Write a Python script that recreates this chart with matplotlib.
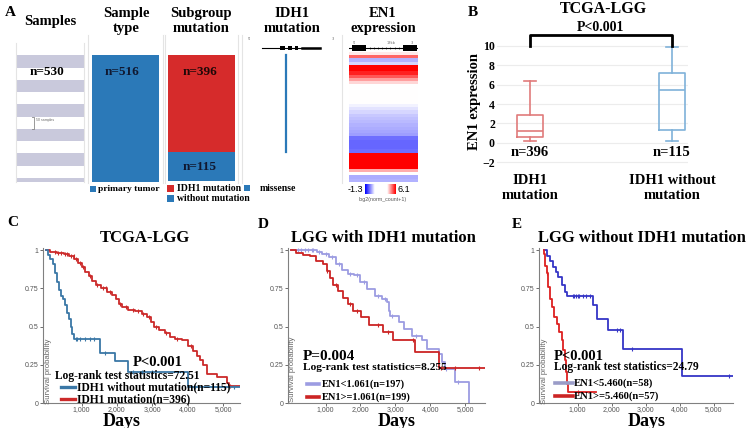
import numpy as np
import matplotlib
matplotlib.use('Agg')
import matplotlib.pyplot as plt
from matplotlib.lines import Line2D
from matplotlib.patches import Rectangle
from matplotlib.colors import LinearSegmentedColormap, TwoSlopeNorm

W, H = 749, 428
SERIF = 'Liberation Serif'
SANS = 'Liberation Sans'

# ---------------- data ----------------
# panel A
sample_total = 530
sample_stripes = [0, 1, 0, 1, 0, 1, 0, 1, 0, 1, 0, 1]
type_counts = [516]
subgroup_labels = ['IDH1 mutation', 'without mutation']
subgroup_counts = [396, 115]
missense_span = [0, 396]
idh1_exons = [(0.38, 0.43), (0.46, 0.50), (0.53, 0.56)]
en1_exons = [(0.04, 0.24), (0.78, 0.98)]
en1_range = [-1.3, 6.1]
en1_rows = [2.7, 4.6, 1.3, 1.8,
            6.1, 6.1, 5.6, 4.8, 3.8, 3.0,
            2.4, 2.4, 2.4, 2.4, 2.4, 2.4,
            2.2, 2.0, 1.8, 1.6, 1.5, 1.4, 1.3, 1.2, 1.1, 1.0,
            0.3, 0.2, 0.2, 0.2, 0.3,
            6.1, 6.1, 6.1, 6.1, 6.1,
            3.6, 2.4, 1.2, 1.3]

# panel B (box statistics)
box_groups = ['IDH1\nmutation', 'IDH1 without\nmutation']
box_n = ['n=396', 'n=115']
box_q1 = [0.62, 1.30]
box_med = [1.26, 5.48]
box_q3 = [2.91, 7.19]
box_lo = [0.17, 0.17]
box_hi = [6.33, 9.93]

# panel C
c_nomut_t = [0, 60, 120, 180, 240, 300, 360, 420, 480, 540, 600, 650, 700, 740, 780,
             1510, 1940, 2320, 4010, 5480]
c_nomut_s = [1.0, 0.97, 0.94, 0.91, 0.85, 0.79, 0.74, 0.70, 0.68, 0.64, 0.59, 0.55, 0.50,
             0.45, 0.42, 0.33, 0.275, 0.20, 0.105, 0.105]
c_nomut_cens = [830, 880, 960, 1100, 1250, 1350, 1650, 2450, 2700, 3000, 4200, 5300]
c_mut_t = [0, 100, 300, 500, 650, 800, 900, 1000, 1100, 1200, 1300, 1400, 1550, 1720,
           1850, 1960, 2050, 2150, 2300, 2500, 2700, 2850, 2950, 3050, 3200, 3350, 3500,
           3650, 3840, 4000, 4150, 4260, 4350, 4420, 4540, 4820, 5100, 5160, 5480]
c_mut_s = [1.0, 0.99, 0.98, 0.975, 0.96, 0.94, 0.92, 0.89, 0.86, 0.83, 0.80, 0.77, 0.75,
           0.73, 0.71, 0.68, 0.65, 0.63, 0.61, 0.60, 0.58, 0.56, 0.53, 0.50, 0.48, 0.46,
           0.43, 0.42, 0.41, 0.37, 0.34, 0.31, 0.28, 0.25, 0.19, 0.17, 0.13, 0.11, 0.11]
c_mut_cens = [250, 330, 420, 520, 600, 700, 780, 850, 950, 1050, 1250, 1450, 1600, 1680,
              1800, 2100, 2250, 2450, 2600, 2750, 2900, 3100, 3400, 3700, 4100, 5200]

# panel D
d_low_t = [0, 750, 900, 1100, 1300, 1480, 1630, 1820, 2000, 2200, 2430, 2620, 2760, 2810,
           2860, 3100, 3240, 3480, 3760, 3910, 4240, 4340, 4420, 4700, 5120]
d_low_s = [1.0, 0.99, 0.975, 0.955, 0.91, 0.87, 0.845, 0.835, 0.79, 0.745, 0.70, 0.68,
           0.66, 0.605, 0.57, 0.53, 0.485, 0.44, 0.41, 0.355, 0.32, 0.27, 0.22, 0.14, 0.0]
d_low_cens = [200, 300, 400, 500, 600, 650, 800, 1000, 1200, 1400, 1700, 1900, 2100, 2500,
              2700, 2900, 3600, 4450, 4800]
d_high_t = [0, 150, 350, 550, 740, 930, 1030, 1120, 1220, 1360, 1500, 1650, 1790, 2030,
            2260, 2650, 2930, 3550, 4250, 5570]
d_high_s = [1.0, 0.98, 0.97, 0.96, 0.93, 0.91, 0.865, 0.82, 0.77, 0.735, 0.69, 0.65, 0.605,
            0.56, 0.51, 0.465, 0.41, 0.335, 0.23, 0.23]
d_high_cens = [1050, 1300, 1700, 1900, 2500, 2800, 3500, 4300, 4700, 5400]

# panel E
e_low_t = [0, 100, 200, 290, 360, 430, 530, 630, 680, 1460, 1560, 1900, 2330, 4050, 5560]
e_low_s = [1.0, 0.96, 0.93, 0.89, 0.86, 0.825, 0.77, 0.727, 0.70, 0.64, 0.55, 0.476,
           0.356, 0.18, 0.18]
e_low_cens = [850, 900, 950, 1000, 1050, 1150, 1250, 1350, 2150, 2250, 2600, 5450]
e_high_t = [0, 20, 40, 90, 140, 190, 240, 320, 390, 465, 530, 580, 630, 660, 680, 710, 1550]
e_high_s = [1.0, 0.978, 0.90, 0.85, 0.76, 0.68, 0.63, 0.56, 0.52, 0.465, 0.41, 0.345,
            0.28, 0.20, 0.127, 0.072, 0.072]
e_high_cens = [100, 1000]

BLUE_A = '#2b79b8'
RED_A = '#d62b2b'


def box(x0, y0, x1, y1):
    return [x0 / W, 1 - y1 / H, (x1 - x0) / W, (y1 - y0) / H]


def ftext(x, y, s, **kw):
    kw.setdefault('va', 'center')
    return fig.text(x / W, 1 - y / H, s, **kw)


def fline(x0, x1, y, **kw):
    fig.add_artist(Line2D([x0 / W, x1 / W], [1 - y / H, 1 - y / H], **kw))


def fsquare(x0, y0, size, color):
    fig.add_artist(Rectangle((x0 / W, 1 - (y0 + size) / H), size / W, size / H,
                             transform=fig.transFigure, color=color, lw=0))


fig = plt.figure(figsize=(W / 100, H / 100), dpi=100)
bold = dict(family=SERIF, fontweight='bold')


def column_axes(rect):
    ax = fig.add_axes(rect)
    ax.set_xticks([]); ax.set_yticks([])
    for k in ['top', 'bottom']:
        ax.spines[k].set_visible(False)
    for k in ['left', 'right']:
        ax.spines[k].set_color('#e4e4e4')
    return ax


# ---------------- panel A ----------------
ftext(5, 13, 'A', fontsize=11, **bold)
titles = [(50, 22, 'Samples'), (126, 21, 'Sample\ntype'), (201, 21, 'Subgroup\nmutation'),
          (292, 21, 'IDH1\nmutation'), (383, 21, 'EN1\nexpression')]
for x, y, s in titles:
    ftext(x, y, s, fontsize=10.5, ha='center', linespacing=1.15, **bold)

# samples stripes
ax = column_axes(box(16, 43, 84, 182))
stripe_h = 12.25
ax.set_ylim(139, 0); ax.set_xlim(0, 1)
for i, v in enumerate(sample_stripes):
    ax.barh(i * stripe_h, 1, height=stripe_h, align='edge',
            color='#c9c9dc' if v else 'white', lw=0)
ax.plot([0.24, 0.26, 0.26, 0.24], [74, 74, 86, 86], color='#888', lw=0.6)
ax.text(0.29, 77, '50 samples', fontsize=2.5, color='#666', family=SANS, va='center')
ftext(47, 72, 'n=%d' % sample_total, fontsize=9.5, ha='center', **bold)

# sample type
ax = column_axes(box(88, 35, 163, 183))
ax.set_ylim(520, -81); ax.set_xlim(0, 1)
ax.bar(0.5, type_counts[0], width=0.89, bottom=0, color=BLUE_A, lw=0)
ftext(122, 72, 'n=%d' % type_counts[0], fontsize=9.5, ha='center', color='#101830', **bold)

# subgroup mutation
ax = column_axes(box(165, 35, 238, 183))
ax.set_ylim(520, -81); ax.set_xlim(0, 1)
ax.bar(0.5, subgroup_counts[0], width=0.93, bottom=0, color=RED_A, lw=0)
ax.bar(0.5, subgroup_counts[1], width=0.93, bottom=subgroup_counts[0], color=BLUE_A, lw=0)
ftext(200, 72, 'n=%d' % subgroup_counts[0], fontsize=9.5, ha='center', color='#200808', **bold)
ftext(200, 167, 'n=%d' % subgroup_counts[1], fontsize=9.5, ha='center', color='#101830', **bold)

# IDH1 mutation
ax = column_axes(box(242, 35, 342, 183))
ax.set_ylim(520, -81); ax.set_xlim(0, 1)
ax.plot([0.44, 0.44], missense_span, color=BLUE_A, lw=1.6)
ax.plot([0.2, 0.78], [-28, -28], color='black', lw=0.8)
ax.plot([0.6, 0.78], [-28, -28], color='black', lw=1.8)
for a, b in idh1_exons:
    ax.add_patch(Rectangle((a, -36), b - a, 16, color='black', lw=0))
ax.text(0.06, -60, "5'", fontsize=2.5, color='#666')
ax.text(0.9, -60, "3'", fontsize=2.5, color='#666')

# EN1 expression heatmap
cmap = LinearSegmentedColormap.from_list('bwr2', ['#0000ff', '#ffffff', '#ff0000'])
norm = TwoSlopeNorm(vmin=en1_range[0], vcenter=2.4, vmax=en1_range[1])
ax = fig.add_axes(box(349, 52, 418, 182))
ax.imshow(np.array(en1_rows)[:, None], aspect='auto', cmap=cmap, norm=norm,
          interpolation='nearest')
ax.set_axis_off()
ax = fig.add_axes(box(349, 40, 418, 52))
ax.set_xlim(0, 1); ax.set_ylim(0, 1); ax.set_axis_off()
ax.plot([0, 1], [0.35, 0.35], color='black', lw=0.8)
for a, b in en1_exons:
    ax.add_patch(Rectangle((a, 0.1), b - a, 0.5, color='black', lw=0))
ax.plot(np.arange(0.3, 0.75, 0.06), [0.35] * 8, '|', color='black', ms=1.5, mew=0.4)
ax.text(0.05, 0.95, "5'", fontsize=2.5, color='#666', va='top')
ax.text(0.9, 0.95, "3'", fontsize=2.5, color='#666', va='top')
ax.text(0.55, 0.95, '13kb', fontsize=2.5, color='#666', va='top')
ax = fig.add_axes(box(365, 184, 375, 194))
ax.imshow(np.linspace(en1_range[0], 2.4, 20)[None, :], aspect='auto', cmap=cmap, norm=norm)
ax.set_axis_off()
ax = fig.add_axes(box(387, 184, 396, 194))
ax.imshow(np.linspace(2.4, en1_range[1], 20)[None, :], aspect='auto', cmap=cmap, norm=norm)
ax.set_axis_off()
ftext(363, 189, '%.1f' % en1_range[0], fontsize=6.5, ha='right', family=SANS)
ftext(397, 189, '%.1f' % en1_range[1], fontsize=6.5, ha='left', family=SANS)
ftext(383, 199, 'log2(norm_count+1)', fontsize=3.8, ha='center', family=SANS, color='#555')

# panel A legends
fsquare(90, 186, 6, BLUE_A)
ftext(98, 189, 'primary tumor', fontsize=6.8, **bold)
fsquare(167, 185, 7, RED_A)
ftext(177, 188.5, subgroup_labels[0], fontsize=7, **bold)
fsquare(167, 195, 7, BLUE_A)
ftext(177, 198.5, subgroup_labels[1], fontsize=7, **bold)
fsquare(244, 185, 6, BLUE_A)
ftext(260, 188.5, 'missense', fontsize=7, **bold)

# ---------------- panel B ----------------
ftext(468, 12, 'B', fontsize=11, **bold)
ftext(603, 9, 'TCGA-LGG', fontsize=11.5, ha='center', **bold)
axb = fig.add_axes(box(497, 41, 688, 170))
stats = []
for i in range(2):
    stats.append(dict(q1=box_q1[i], med=box_med[i], q3=box_q3[i],
                      whislo=box_lo[i], whishi=box_hi[i], fliers=[]))
box_colors = ['#e07b7b', '#7fb2d9']
parts = axb.bxp(stats, positions=[1, 2], widths=0.18, showfliers=False,
                patch_artist=False, capwidths=0.085)
for i, c in enumerate(box_colors):
    for key in ['boxes', 'medians']:
        parts[key][i].set_color(c); parts[key][i].set_linewidth(1.2)
    for key in ['whiskers', 'caps']:
        for ln in parts[key][2 * i:2 * i + 2]:
            ln.set_color(c); ln.set_linewidth(1.2)
axb.set_xlim(0.768, 2.113)
axb.set_ylim(-2.8, 10.5)
axb.set_yticks(range(-2, 11, 2))
axb.yaxis.grid(True, color='#ececec', lw=0.8)
axb.set_axisbelow(True)
for sp in axb.spines.values():
    sp.set_visible(False)
axb.set_xticks([1, 2])
axb.set_xticklabels(box_groups)
axb.tick_params(axis='y', length=0, pad=1.5)
axb.tick_params(axis='x', length=0, pad=3)
for lab in axb.get_yticklabels():
    lab.set_fontfamily(SERIF); lab.set_fontweight('bold'); lab.set_fontsize(8.5)
for lab in axb.get_xticklabels():
    lab.set_fontfamily(SERIF); lab.set_fontweight('bold'); lab.set_fontsize(10.5)
    lab.set_linespacing(1.15)
for i, s in enumerate(box_n):
    axb.text(i + 1, -1.0, s, ha='center', va='center', fontsize=10.5, **bold)
axb.plot([1, 1, 2, 2], [10.0, 11.13, 11.13, 10.0], color='black', lw=2, clip_on=False)
axb.text(1.5, 11.85, 'P<0.001', ha='center', va='center', fontsize=10, **bold)
ftext(474, 102, 'EN1 expression', rotation=90, ha='center', fontsize=10.5, **bold)


# ---------------- panels C, D, E ----------------
def km_axes(rect, xlim):
    ax = fig.add_axes(rect)
    ax.set_xlim(*xlim)
    ax.set_ylim(0, 1.015)
    for k in ['top', 'right']:
        ax.spines[k].set_visible(False)
    for k in ['left', 'bottom']:
        ax.spines[k].set_color('#808080'); ax.spines[k].set_linewidth(0.8)
    ax.set_yticks([0, 0.25, 0.5, 0.75, 1])
    ax.set_yticklabels(['0', '0.25', '0.5', '0.75', '1'])
    ax.set_xticks([1000, 2000, 3000, 4000, 5000])
    ax.set_xticklabels(['1,000', '2,000', '3,000', '4,000', '5,000'])
    ax.tick_params(labelsize=5, colors='#555', length=2, width=0.6, pad=1)
    ax.tick_params(axis='x', pad=0.5)
    for lab in ax.get_xticklabels() + ax.get_yticklabels():
        lab.set_fontfamily(SANS)
    return ax


def km_curve(ax, t, s, cens, color):
    ax.step(t, s, where='post', color=color, lw=1.3)
    t = np.asarray(t); s = np.asarray(s)
    idx = np.searchsorted(t, cens, side='right') - 1
    ax.plot(cens, s[idx], '|', color=color, ms=3.5, mew=0.8)


# C
ftext(7, 223, 'C', fontsize=11, **bold)
ftext(145, 238, 'TCGA-LGG', fontsize=12, ha='center', **bold)
axc = km_axes(box(43, 248, 240, 403), (-90, 5480))
km_curve(axc, c_mut_t, c_mut_s, c_mut_cens, '#cc2a2a')
km_curve(axc, c_nomut_t, c_nomut_s, c_nomut_cens, '#3a77a6')
ftext(49, 371, 'Survival probability', rotation=90, ha='center', fontsize=5.6,
      family=SANS, color='#666')
ftext(133, 362, 'P<0.001', fontsize=10.5, **bold)
ftext(55, 376, 'Log-rank test statistics=72.51', fontsize=8.3, **bold)
fline(61, 75, 387, color='#3a77a6', lw=2.4)
ftext(77, 387, 'IDH1 without mutation(n=115)', fontsize=8.3, **bold)
fline(61, 75, 399, color='#cc2a2a', lw=2.4)
ftext(77, 399, 'IDH1 mutation(n=396)', fontsize=8.3, **bold)
ftext(122, 421, 'Days', fontsize=13, ha='center', **bold)

# D
ftext(258, 225, 'D', fontsize=11, **bold)
ftext(383, 238, 'LGG with IDH1 mutation', fontsize=12, ha='center', **bold)
axd = km_axes(box(288, 248, 485, 403), (-75, 5570))
km_curve(axd, d_low_t, d_low_s, d_low_cens, '#9c9ce2')
km_curve(axd, d_high_t, d_high_s, d_high_cens, '#cc2424')
ftext(293, 369, 'Survival probability', rotation=90, ha='center', fontsize=5.6,
      family=SANS, color='#666')
ftext(303, 356, 'P=0.004', fontsize=11, **bold)
ftext(303, 367, 'Log-rank test statistics=8.255', fontsize=8.2, **bold)
fline(307, 319, 384, color='#9c9ce2', lw=2.6)
ftext(322, 384, 'EN1<1.061(n=197)', fontsize=7.5, **bold)
fline(307, 319, 397, color='#cc2424', lw=2.6)
ftext(322, 397, 'EN1>=1.061(n=199)', fontsize=7.5, **bold)
ftext(397, 421, 'Days', fontsize=13, ha='center', **bold)

# E
ftext(512, 225, 'E', fontsize=11, **bold)
ftext(642, 238, 'LGG without IDH1 mutation', fontsize=12, ha='center', **bold)
axe = km_axes(box(539, 248, 733, 403), (-135, 5560))
km_curve(axe, e_low_t, e_low_s, e_low_cens, '#3535c6')
km_curve(axe, e_high_t, e_high_s, e_high_cens, '#dd2020')
ftext(544, 371, 'Survival probability', rotation=90, ha='center', fontsize=5.6,
      family=SANS, color='#666')
ftext(554, 356, 'P<0.001', fontsize=10.5, **bold)
ftext(554, 367, 'Log-rank test statistics=24.79', fontsize=8.3, **bold)
fline(555, 573, 383, color='#9a9cc8', lw=2.6)
ftext(574, 383, 'EN1<5.460(n=58)', fontsize=7.7, **bold)
fline(555, 573, 396, color='#cc2424', lw=2.6)
ftext(574, 396, 'EN1>=5.460(n=57)', fontsize=7.7, **bold)
ftext(647, 421, 'Days', fontsize=13, ha='center', **bold)

fig.savefig('out.png', dpi=100)
